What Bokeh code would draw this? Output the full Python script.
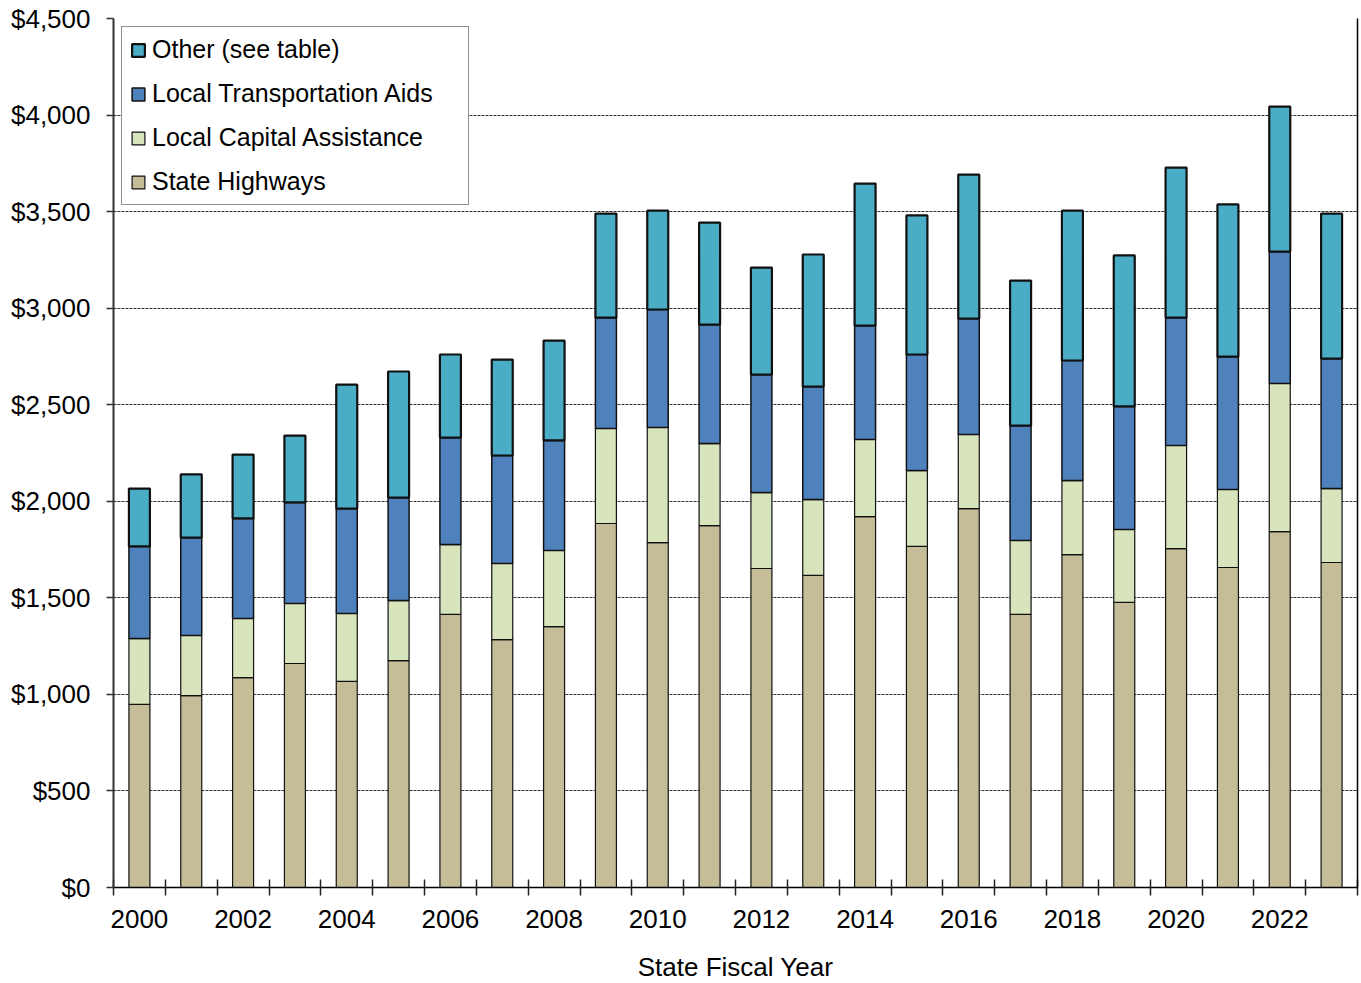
from bokeh.plotting import figure
from bokeh.models import (ColumnDataSource, Range1d, FixedTicker, NumeralTickFormatter,
                          Legend, LegendItem, LinearAxis)
from bokeh.embed import file_html
from bokeh.resources import INLINE

years = list(range(2000, 2024))
state_highways = [948, 994, 1087, 1160, 1067, 1175, 1414, 1284, 1351, 1885, 1786, 1874,
                  1652, 1616, 1921, 1766, 1962, 1414, 1724, 1476, 1755, 1657, 1843, 1683]
local_capital = [341, 311, 306, 311, 352, 311, 362, 394, 394, 492, 596, 425,
                 393, 393, 399, 393, 384, 383, 383, 378, 534, 404, 767, 383]
local_transport_aids = [477, 507, 518, 523, 543, 533, 554, 559, 570, 574, 611, 616,
                        611, 585, 590, 601, 600, 595, 622, 637, 662, 688, 683, 673]
other = [300, 327, 331, 346, 642, 653, 430, 497, 517, 539, 512, 528,
         554, 684, 735, 720, 746, 751, 776, 782, 777, 788, 751, 751]

series_keys = ["sh", "lca", "lta", "oth"]
series_labels = ["State Highways", "Local Capital Assistance",
                 "Local Transportation Aids", "Other (see table)"]
colors = ["#C4BD97", "#D8E4BC", "#4F81BD", "#4BACC6"]

source = ColumnDataSource(dict(year=years, sh=state_highways, lca=local_capital,
                               lta=local_transport_aids, oth=other))

FONT = "Liberation Sans"

p = figure(frame_width=1244, frame_height=869,
           min_border_left=113, min_border_top=18, min_border_right=4, min_border_bottom=90,
           output_backend="svg", toolbar_location=None,
           x_range=Range1d(1999.5, 2023.5), y_range=Range1d(0, 4500))

renderers = p.vbar_stack(series_keys, x="year", width=0.405, source=source,
                         fill_color=colors, line_color="#111111",
                         line_width=[1.2, 1.2, 1.5, 2.2])

p.background_fill_color = "white"
p.border_fill_color = "white"
p.outline_line_color = None

# grid
p.xgrid.grid_line_color = None
p.ygrid.ticker = FixedTicker(ticks=list(range(0, 4501, 500)))
p.ygrid.grid_line_color = "#333333"
p.ygrid.grid_line_width = 1
p.ygrid.grid_line_dash = "3 1"

# x axis
xa = p.xaxis[0]
xa.ticker = FixedTicker(ticks=list(range(2000, 2024, 2)),
                        minor_ticks=[y - 0.5 for y in range(2000, 2025)])
xa.major_tick_line_color = None
xa.major_tick_out = 0
xa.major_tick_in = 0
xa.minor_tick_in = 8
xa.minor_tick_out = 8
xa.minor_tick_line_color = "#222222"
xa.minor_tick_line_width = 1.5
xa.axis_line_color = "#000000"
xa.axis_line_width = 1.5
xa.major_label_text_font = FONT
xa.major_label_text_font_size = "26px"
xa.major_label_text_color = "#000000"
xa.major_label_standoff = 14
xa.axis_label = "State Fiscal Year"
xa.axis_label_text_font = FONT
xa.axis_label_text_font_size = "26px"
xa.axis_label_text_font_style = "normal"
xa.axis_label_text_color = "#000000"
xa.axis_label_standoff = 21

# y axis
ya = p.yaxis[0]
ya.ticker = FixedTicker(ticks=list(range(0, 4501, 500)))
ya.formatter = NumeralTickFormatter(format="$0,0")
ya.minor_tick_line_color = None
ya.major_tick_in = 0
ya.major_tick_out = 7
ya.major_tick_line_color = "#333333"
ya.major_tick_line_width = 1.5
ya.axis_line_color = "#333333"
ya.axis_line_width = 2
ya.major_label_text_font = FONT
ya.major_label_text_font_size = "26px"
ya.major_label_text_color = "#000000"
ya.major_label_standoff = 16

# right border line
ra = LinearAxis(ticker=FixedTicker(ticks=[]), major_label_text_font_size="0px",
                major_tick_line_color=None, minor_tick_line_color=None,
                axis_line_color="#000000", axis_line_width=1.5)
p.add_layout(ra, "right")

# legend
items = [LegendItem(label=series_labels[i], renderers=[renderers[i]]) for i in [3, 2, 1, 0]]
legend = Legend(items=items, location="top_left", margin=8, padding=8,
                spacing=15, glyph_width=16, glyph_height=16, label_standoff=6,
                label_width=308,
                label_text_font=FONT, label_text_font_size="25px",
                label_text_color="#000000",
                border_line_color="#222222", border_line_width=1,
                background_fill_color="white", background_fill_alpha=1.0)
p.add_layout(legend, "center")

open("out.html", "w").write(file_html(p, INLINE))
